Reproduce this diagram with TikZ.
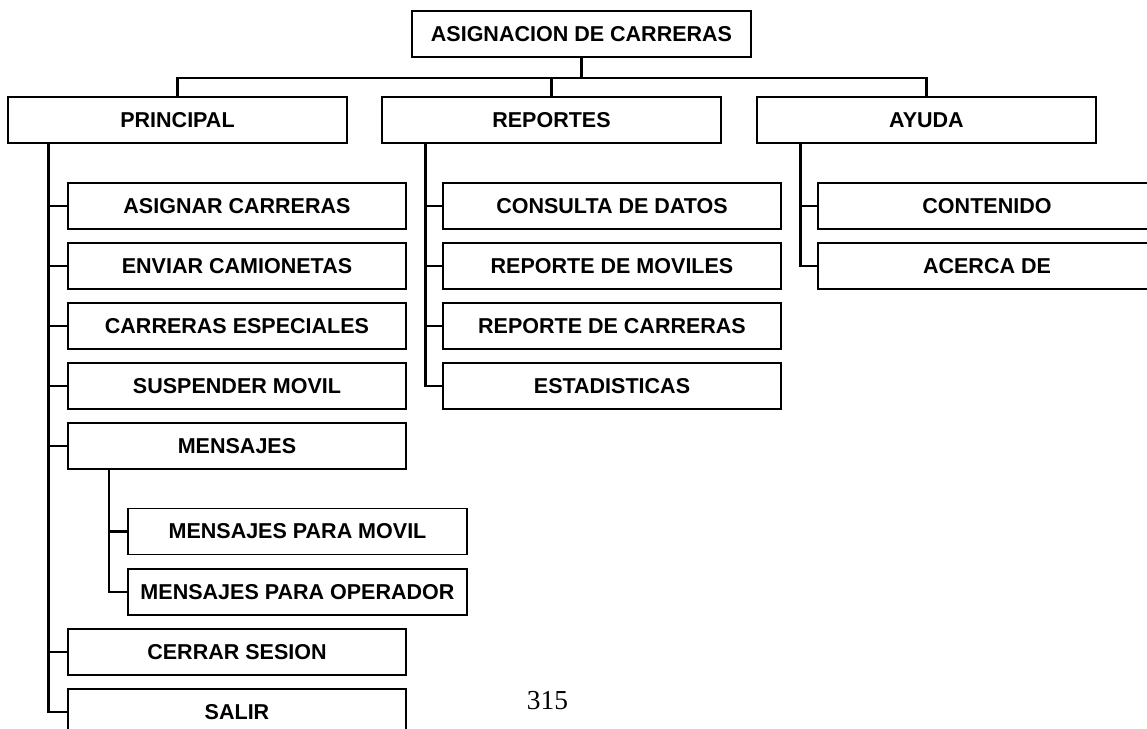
\documentclass[tikz,border=0pt]{standalone}
\usepackage{fontspec}
\setmainfont{Liberation Sans}
\newfontfamily\numfont{Liberation Serif}
\usetikzlibrary{calc}
\tikzset{
  caja/.style={
    draw,
    line width=1.4pt,
    minimum width=8.45cm,
    minimum height=1.15cm,
    inner sep=0pt,
    font=\fontsize{15.3}{18}\selectfont\bfseries
  },
  rama/.style={
    line width=1.5pt
  },
  pagina/.style={
    font=\numfont\fontsize{19.5}{22}\selectfont
  }
}

\begin{document}
\begin{tikzpicture}[x=0.025cm, y=-0.025cm]
    % 1 unidad = 1 pixel de la imagen
    \useasboundingbox (0,0) rectangle (1147,729);

    % raiz y menus
    \node[caja] (raiz) at (581.5,34) {ASIGNACION DE CARRERAS};
    \node[caja] (principal) at (177.5,120) {PRINCIPAL};
    \node[caja] (reportes) at (551.5,120) {REPORTES};
    \node[caja] (ayuda) at (926.5,120) {AYUDA};

    % barra horizontal
    \coordinate (barra) at ($(raiz.south)+(0,20)$);
    \draw[rama] (raiz.south) -- (barra);
    \draw[rama] (principal.north) |- (barra) -| (ayuda.north);
    \draw[rama] (reportes.north) -- (reportes.north |- barra);

    % opciones de PRINCIPAL
    \coordinate (ptronco) at ($(principal.south west)+(41,0)$);
    \foreach \nombre/\texto/\y in {asignar/ASIGNAR CARRERAS/206,
        enviar/ENVIAR CAMIONETAS/266, especiales/CARRERAS ESPECIALES/326,
        suspender/SUSPENDER MOVIL/386, mensajes/MENSAJES/446,
        cerrar/CERRAR SESION/652, salir/SALIR/712} {
      \node[caja] (\nombre) at (237,\y) {\texto};
      \draw[rama] (ptronco) |- (\nombre.west);
    }

    % submenu de MENSAJES
    \coordinate (mtronco) at ($(mensajes.south west)+(42,0)$);
    \foreach \nombre/\texto/\y in {msjmovil/MENSAJES PARA MOVIL/531.5,
        msjoperador/MENSAJES PARA OPERADOR/592} {
      \node[caja] (\nombre) at (297.5,\y) {\texto};
      \draw[rama] (mtronco) |- (\nombre.west);
    }

    % opciones de REPORTES
    \coordinate (rtronco) at ($(reportes.south west)+(44,0)$);
    \foreach \nombre/\texto/\y in {consulta/CONSULTA DE DATOS/206,
        moviles/REPORTE DE MOVILES/266, repcarreras/REPORTE DE CARRERAS/326,
        estadisticas/ESTADISTICAS/386} {
      \node[caja] (\nombre) at (612,\y) {\texto};
      \draw[rama] (rtronco) |- (\nombre.west);
    }

    % opciones de AYUDA
    \coordinate (atronco) at ($(ayuda.south west)+(44,0)$);
    \foreach \nombre/\texto/\y in {contenido/CONTENIDO/206, acerca/ACERCA DE/266} {
      \node[caja] (\nombre) at (987,\y) {\texto};
      \draw[rama] (atronco) |- (\nombre.west);
    }

    % numero de pagina
    \node[pagina] (numpag) at (547.5,700.5) {315};

\end{tikzpicture}
\end{document}
